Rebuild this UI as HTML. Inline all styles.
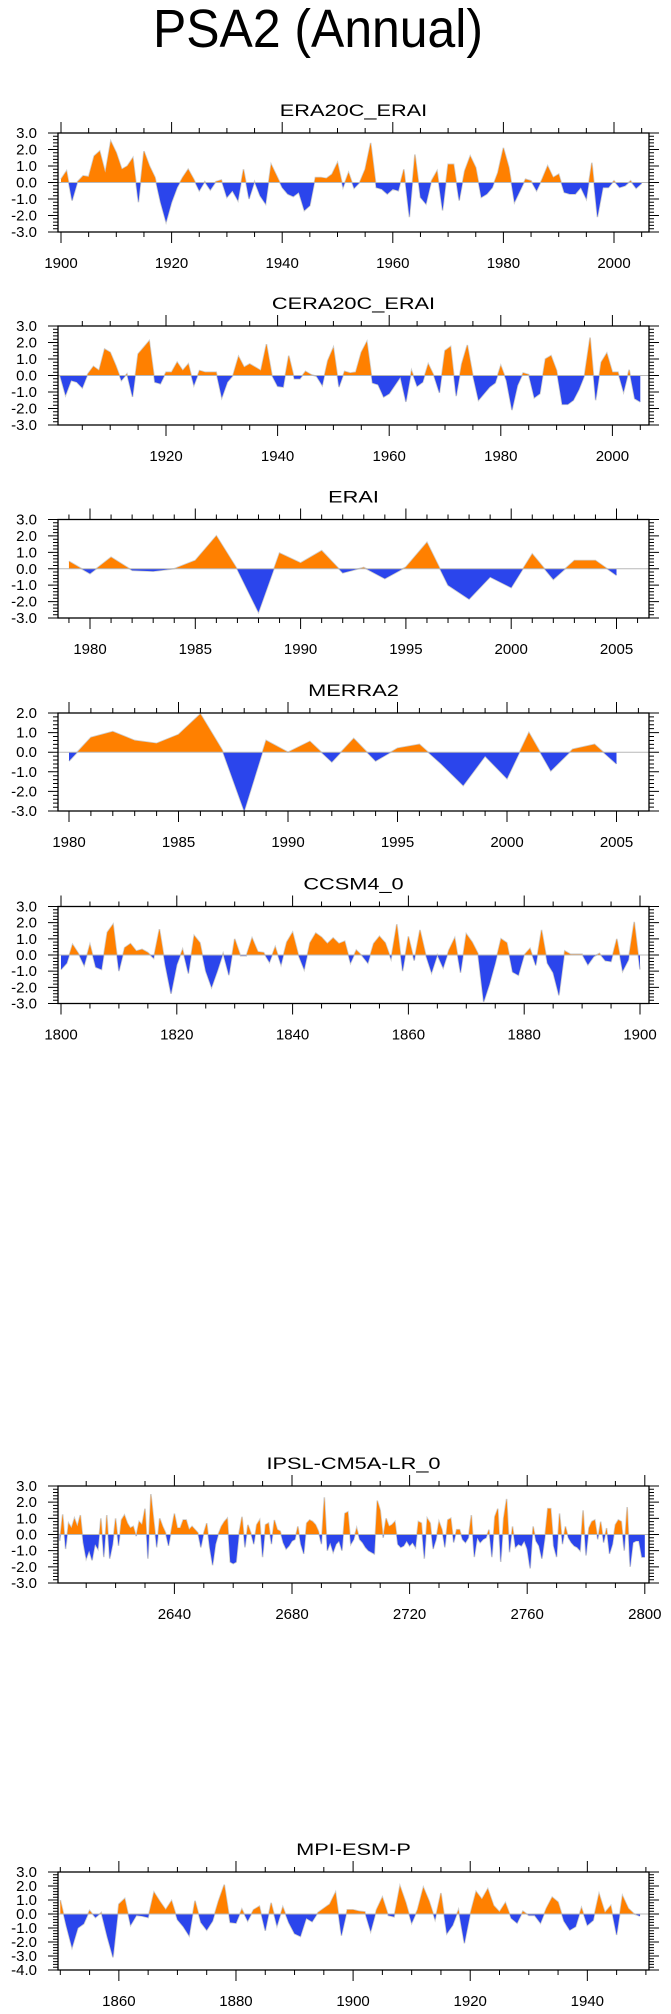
<!DOCTYPE html>
<html><head><meta charset="utf-8"><style>
html,body{margin:0;padding:0;background:#fff;}
svg{display:block;font-family:"Liberation Sans",Arial,sans-serif;}
</style></head>
<body>
<svg id="chart" width="671" height="2014" viewBox="0 0 671 2014" xmlns="http://www.w3.org/2000/svg">
<rect x="0" y="0" width="671" height="2014" fill="#fff"/>
<text x="153" y="47" font-size="54" textLength="330" lengthAdjust="spacingAndGlyphs" fill="#000">PSA2 (Annual)</text>
</svg>
<script>
// ---- data arrays ----
const era20cStart = 1900;
const era20cValues = [0.2,0.7,-1.1,0.05,0.4,0.35,1.6,1.9,0.6,2.5,1.8,0.8,1.0,1.5,-1.2,1.9,1.0,0.3,-1.2,-2.4,-1.2,-0.3,0.3,0.8,0.2,-0.5,0.05,-0.45,0.05,0.15,-0.9,-0.5,-1.1,0.8,-1.0,0.05,-0.8,-1.3,1.1,0.4,-0.3,-0.7,-0.85,-0.6,-1.7,-1.4,0.3,0.3,0.25,0.5,1.2,-0.3,0.6,-0.35,0.0,0.8,2.4,-0.3,-0.4,-0.7,-0.4,-0.5,0.8,-2.1,1.7,-0.9,-1.3,0.1,0.7,-1.7,1.1,1.1,-1.1,0.7,1.6,0.9,-0.9,-0.7,-0.3,0.6,2.1,0.9,-1.2,-0.5,0.2,0.1,-0.5,0.2,1.0,0.3,0.5,-0.6,-0.7,-0.7,-0.3,-1.0,1.2,-2.1,-0.3,-0.3,0.1,-0.3,-0.2,0.1,-0.35,-0.05];
const cera20cStart = 1901;
const cera20cValues = [0.0,-1.2,-0.3,-0.4,-0.75,0.1,0.55,0.3,1.6,1.4,0.6,-0.3,0.1,-1.3,1.3,1.7,2.1,-0.4,-0.5,0.2,0.2,0.8,0.3,0.7,-0.6,0.3,0.2,0.2,0.2,-1.35,-0.4,0.0,1.15,0.5,0.7,0.5,0.3,1.9,0.0,-0.65,-0.7,1.2,-0.2,-0.2,0.25,0.05,-0.05,-0.6,0.9,1.7,-0.7,0.25,0.15,0.2,1.4,2.05,-0.45,-0.55,-1.3,-1.1,-0.6,-0.1,-1.6,0.3,-0.65,-0.4,0.7,0.0,-1.05,1.5,1.75,-1.25,0.7,1.85,0.0,-1.5,-1.1,-0.7,-0.45,0.6,-0.3,-2.1,-0.6,0.15,0.05,-1.35,-1.1,1.0,1.2,0.3,-1.75,-1.75,-1.5,-0.85,0.0,2.3,-1.5,0.8,1.35,0.2,0.2,-1.0,0.35,-1.4,-1.6];
const eraiStart = 1979;
const eraiValues = [0.45,-0.3,0.7,-0.1,-0.15,0.0,0.5,2.0,-0.05,-2.65,0.95,0.35,1.1,-0.25,0.08,-0.6,0.1,1.6,-1.0,-1.85,-0.5,-1.15,0.9,-0.65,0.5,0.5,-0.4];
const merra2Start = 1980;
const merra2Values = [-0.45,0.75,1.05,0.6,0.45,0.9,1.95,0.1,-3.0,0.6,0.0,0.55,-0.5,0.7,-0.45,0.2,0.4,-0.6,-1.7,-0.2,-1.35,1.0,-0.95,0.15,0.4,-0.6];
const ccsm4Start = 1800;
const ccsm4Values = [-0.9,-0.5,0.65,0.1,-0.65,0.65,-0.75,-0.9,1.4,1.9,-1.0,0.45,0.7,0.25,0.35,0.15,-0.2,1.6,-0.6,-2.4,-0.6,0.35,-1.15,1.2,0.75,-1.0,-2.0,-1.0,0.1,-1.25,1.0,-0.05,-0.05,1.05,0.2,0.15,-0.45,0.5,-0.6,0.8,1.4,0.0,-0.9,0.75,1.35,1.1,0.7,1.05,0.7,0.85,-0.5,0.3,-0.05,-0.5,0.7,1.15,0.75,-0.25,1.9,-1.0,1.15,-0.35,1.55,0.0,-1.1,0.0,-0.8,0.3,1.05,-1.1,1.3,0.8,0.1,-2.9,-1.8,-0.5,1.0,0.75,-1.05,-1.25,0.0,0.4,-0.65,1.55,-0.5,-1.1,-2.5,0.25,0.05,0.05,0.05,-0.6,-0.1,0.1,-0.35,-0.4,1.0,-1.0,-0.3,2.05,-0.9];
const ipslStart = 2601;
const ipslValues = [-0.4,1.25,-0.9,0.7,0.4,1.0,0.5,1.2,-0.5,-1.5,-1.0,-1.6,-0.6,-0.9,1.0,-1.4,1.2,-1.5,-0.6,1.0,-0.7,0.9,1.2,0.7,0.4,0.5,-0.1,0.8,0.6,1.6,-1.5,2.5,0.8,-0.8,1.0,0.5,0.1,-0.7,0.3,1.3,0.4,0.4,0.9,0.9,0.3,0.5,0.3,0.1,-0.8,0.1,0.7,-0.8,-1.9,-0.6,0.05,0.5,0.8,1.0,-1.7,-1.8,-1.7,0.1,1.1,-0.8,0.6,0.1,-0.6,0.6,0.9,-1.4,0.6,0.7,-0.6,0.9,0.3,0.2,-0.5,-0.9,-0.7,-0.4,-0.3,0.5,-0.6,-1.2,0.7,0.9,0.8,0.6,0.2,-0.6,2.3,-1.0,-0.5,-1.1,-0.6,-0.4,-1.0,1.3,1.4,-0.6,-0.3,0.4,-0.3,-0.5,-0.8,-1.0,-1.1,-1.2,2.1,1.5,-0.2,1.0,0.5,0.6,0.8,-0.6,-0.8,-0.7,-0.4,-0.7,-0.5,-0.8,0.8,0.7,-1.5,1.0,0.7,-0.9,-0.3,0.8,0.3,-0.8,0.9,1.0,-0.5,0.3,0.3,-0.3,-0.5,-0.2,1.2,-1.4,-0.2,-0.5,-0.3,-0.2,0.3,-1.4,1.1,1.6,-1.7,1.0,2.2,-1.1,0.5,-0.8,-0.6,-0.7,-0.4,-0.9,-2.1,0.5,-0.4,-0.7,-1.5,-0.2,1.6,1.6,-0.7,-1.4,1.3,-0.6,0.5,-0.2,-0.5,-0.7,-0.8,-1.0,1.5,-1.3,0.4,0.8,0.9,-0.3,0.8,-0.5,0.4,-1.2,-0.6,0.6,0.9,0.8,-1.0,1.7,-2.0,-0.5,-0.4,-0.4,-1.4,-1.4];
const mpiStart = 1850;
const mpiValues = [1.0,-0.8,-2.4,-1.0,-0.7,0.25,-0.25,0.1,-1.6,-3.1,0.7,1.1,-0.8,-0.1,-0.15,-0.25,1.55,0.9,0.3,0.95,-0.4,-0.9,-1.55,0.95,-0.6,-1.15,-0.5,0.9,2.1,-0.6,-0.65,0.35,-0.5,0.3,0.55,-1.2,0.8,-0.85,0.5,-0.6,-1.4,-1.6,-0.3,-0.55,0.1,0.4,0.7,1.55,-1.55,0.3,0.3,0.2,0.15,-1.25,0.3,1.2,-0.1,-0.2,2.0,0.8,-0.65,0.3,1.9,0.9,-0.4,1.5,-1.4,-0.8,0.3,-2.1,0.0,1.6,1.05,1.8,0.6,0.15,0.8,-0.3,-0.65,0.2,-0.1,-0.1,-0.65,0.4,1.2,0.85,-0.5,-1.15,-0.9,0.45,-0.8,-0.45,1.45,0.1,0.6,-1.5,1.3,0.4,0.0,-0.15];

// tick label arrays
const ticksP1 = [1900,1920,1940,1960,1980,2000];
const ticksP2 = [1920,1940,1960,1980,2000];
const ticksP3 = [1980,1985,1990,1995,2000,2005];
const ticksP5 = [1800,1820,1840,1860,1880,1900];
const ticksP6 = [2640,2680,2720,2760,2800];
const ticksP7 = [1860,1880,1900,1920,1940];

const NS = "http://www.w3.org/2000/svg";
const svg = document.getElementById('chart');
const BOX_L = 58, BOX_R = 649;

function mk(tag, attrs, parent){
  const e = document.createElementNS(NS, tag);
  for (const k in attrs) e.setAttribute(k, attrs[k]);
  (parent||svg).appendChild(e);
  return e;
}

// cfg: layout only
function drawPanel(cfg, title, start, values, majors){
  const g = mk('g', {});
  
  
  const xs = v => cfg.x0 + (v - cfg.y0) * cfg.pxPerYear;
  const ys = v => cfg.top + (cfg.ymax - v) * (cfg.bottom - cfg.top) / (cfg.ymax - cfg.ymin);
  const zeroY = ys(0);

  // title
  const t = mk('text', {x:0, y:0, 'font-size':17, 'text-anchor':'middle', transform:'translate(353.5,'+(cfg.top-17)+') scale(1.28,1)'}, g);
  t.textContent = title;
  
  

  // points with zero crossings
  const pts = [];
  for (let i = 0; i < values.length; i++){
    const x = start + i, v = values[i];
    if (i > 0){
      const pv = values[i-1];
      if ((pv > 0 && v < 0) || (pv < 0 && v > 0)){
        const f = pv / (pv - v);
        pts.push([x - 1 + f, 0]);
      }
    }
    pts.push([x, v]);
  }
  const first = pts[0][0], last = pts[pts.length-1][0];
  let pos = 'M' + xs(first) + ',' + zeroY;
  let neg = pos;
  pts.forEach(p => {
    pos += ' L' + xs(p[0]).toFixed(2) + ',' + ys(Math.max(p[1],0)).toFixed(2);
    neg += ' L' + xs(p[0]).toFixed(2) + ',' + ys(Math.min(p[1],0)).toFixed(2);
  });
  pos += ' L' + xs(last) + ',' + zeroY + ' Z';
  neg += ' L' + xs(last) + ',' + zeroY + ' Z';

  const line = mk('polyline', {points: pts.map(p => xs(p[0]).toFixed(2)+','+ys(p[1]).toFixed(2)).join(' '), fill:'none', stroke:'#cfcfcf', 'stroke-width':1.6}, g);
  
  
  const pf = mk('path', {d:pos, fill:'#ff8000'}, g);
  
  
  const nf = mk('path', {d:neg, fill:'#2b45ec'}, g);
  
  

  const zl = mk('line', {x1:BOX_L, x2:BOX_R, y1:zeroY, y2:zeroY, stroke:'#b8b8b8', 'stroke-width':1}, g);
  
  

  // box
  const box = mk('rect', {x:BOX_L, y:cfg.top, width:BOX_R-BOX_L, height:cfg.bottom-cfg.top, fill:'none', stroke:'#000', 'stroke-width':1.3}, g);
  
  

  // x ticks
  let tk = '';
  const minStart = Math.ceil(cfg.xmin / cfg.minor) * cfg.minor;
  for (let yr = minStart; yr <= cfg.xmax; yr += cfg.minor){
    const x = xs(yr);
    if (x < BOX_L - 0.5 || x > BOX_R + 0.5) continue;
    const isMaj = Math.abs(yr % cfg.major) < 1e-6;
    const L = isMaj ? 11 : 5;
    tk += 'M'+x+','+cfg.top+' V'+(cfg.top-L)+' M'+x+','+cfg.bottom+' V'+(cfg.bottom+L)+' ';
  }
  // y ticks
  for (let k = Math.round(cfg.ymin*5); k <= Math.round(cfg.ymax*5); k++){
    const v = k/5, y = ys(v);
    const isMaj = k % 5 === 0;
    const L = isMaj ? 10 : 5;
    tk += 'M'+BOX_L+','+y+' H'+(BOX_L-L)+' M'+BOX_R+','+y+' H'+(BOX_R+L)+' ';
  }
  const ticks = mk('path', {d:tk, stroke:'#000', 'stroke-width':1, fill:'none'}, g);
  
  

  majors.forEach(yr => {
    const lab = mk('text', {x:xs(yr), y:cfg.bottom+36, 'font-size':15, 'text-anchor':'middle'}, g);
    lab.textContent = String(yr);
    
    
  });
  for (let v = cfg.ymax; v >= cfg.ymin; v--){
    const lab = mk('text', {x:37, y:ys(v)+5, 'font-size':15, 'text-anchor':'end'}, g);
    lab.textContent = v.toFixed(1);
    
    
  }
}

drawPanel({name:'era20c-erai', top:133, bottom:232, ymin:-3, ymax:3, x0:61, y0:1900, pxPerYear:5.53, xmin:1899, xmax:2007, major:20, minor:5}, 'ERA20C_ERAI', era20cStart, era20cValues, ticksP1);
drawPanel({name:'cera20c-erai', top:326, bottom:425, ymin:-3, ymax:3, x0:166, y0:1920, pxPerYear:5.58, xmin:1899, xmax:2007, major:20, minor:5}, 'CERA20C_ERAI', cera20cStart, cera20cValues, ticksP2);
drawPanel({name:'erai', top:519.5, bottom:618, ymin:-3, ymax:3, x0:90, y0:1980, pxPerYear:21.06, xmin:1978, xmax:2007, major:5, minor:1}, 'ERAI', eraiStart, eraiValues, ticksP3);
drawPanel({name:'merra2', top:713, bottom:811, ymin:-3, ymax:2, x0:69, y0:1980, pxPerYear:21.9, xmin:1979, xmax:2007, major:5, minor:1}, 'MERRA2', merra2Start, merra2Values, ticksP3);
drawPanel({name:'ccsm4-0', top:906.5, bottom:1003.5, ymin:-3, ymax:3, x0:61, y0:1800, pxPerYear:5.79, xmin:1799, xmax:1902, major:20, minor:5}, 'CCSM4_0', ccsm4Start, ccsm4Values, ticksP5);
drawPanel({name:'ipsl-cm5a-lr-0', top:1486, bottom:1583, ymin:-3, ymax:3, x0:174.4, y0:2640, pxPerYear:2.94, xmin:2600, xmax:2802, major:40, minor:10}, 'IPSL-CM5A-LR_0', ipslStart, ipslValues, ticksP6);
drawPanel({name:'mpi-esm-p', top:1872, bottom:1970, ymin:-4, ymax:3, x0:60.3, y0:1850, pxPerYear:5.856, xmin:1849, xmax:1951, major:20, minor:5}, 'MPI-ESM-P', mpiStart, mpiValues, ticksP7);
</script>
</body></html>
